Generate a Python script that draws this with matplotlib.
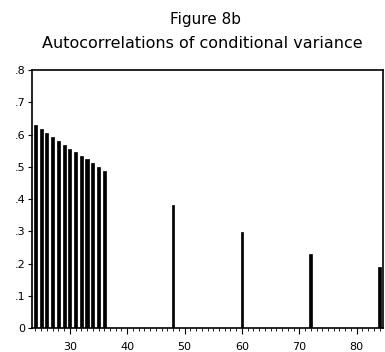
import numpy as np
import matplotlib
matplotlib.use("Agg")
import matplotlib.pyplot as plt

# lags and autocorrelations
lags_low = [24, 25, 26, 27, 28, 29, 30, 31, 32, 33, 34, 35, 36]
acf_low = [0.631, 0.617, 0.605, 0.593, 0.580, 0.569, 0.556, 0.546, 0.535, 0.523, 0.512, 0.499, 0.487]
lags_seasonal = [48, 60, 72, 84]
acf_seasonal = [0.381, 0.298, 0.231, 0.19]

yticks = [0, 0.1, 0.2, 0.3, 0.4, 0.5, 0.6, 0.7, 0.8]
ytick_labels = ["0", ".1", ".2", ".3", ".4", ".5", ".6", ".7", ".8"]
xticks = [30, 40, 50, 60, 70, 80]

fig = plt.figure(figsize=(3.85, 3.52), dpi=100)
ax = fig.add_axes([0.083, 0.068, 0.912, 0.733])

ax.bar(lags_low, acf_low, width=0.55, color="black", edgecolor="black", linewidth=0.5)
ax.bar(lags_seasonal, acf_seasonal, width=0.45, color="black", edgecolor="black", linewidth=0.5)

ax.set_xlim(23.4, 84.6)
ax.set_ylim(0, 0.8)
ax.set_yticks(yticks)
ax.set_yticklabels(ytick_labels, fontsize=8)
ax.set_xticks(xticks)
ax.set_xticklabels([str(t) for t in xticks], fontsize=8)
ax.set_xticks(np.arange(24, 85), minor=True)
ax.tick_params(axis="x", which="major", direction="out", length=4, width=0.8, pad=6)
ax.tick_params(axis="x", which="minor", direction="out", length=2.5, width=0.6)
ax.tick_params(axis="y", direction="out", length=3, width=0.8, pad=2)

for s in ax.spines.values():
    s.set_linewidth(1.2)

fig.text(0.535, 0.945, "Figure 8b", ha="center", va="center", fontsize=11)
fig.text(0.525, 0.875, "Autocorrelations of conditional variance", ha="center", va="center", fontsize=11.5)

fig.savefig("out.png", dpi=100)
